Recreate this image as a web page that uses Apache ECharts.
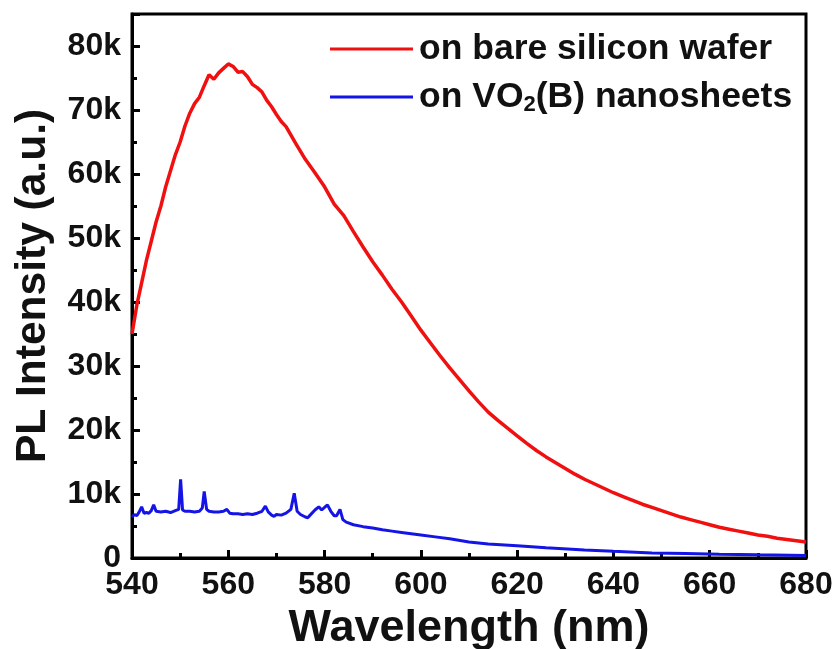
<!DOCTYPE html>
<html>
<head>
<meta charset="utf-8">
<title>PL spectra</title>
<script src="https://cdn.jsdelivr.net/npm/echarts@6/dist/echarts.min.js"></script>
<style>
    html, body { margin: 0; padding: 0; background: #fff; }
    #chart { width: 837px; height: 649px; }
</style>
</head>
<body>
<div id="chart"></div>
<script>
// wavelength (nm) / intensity (k counts)
var redWavelength = [540, 541, 542, 543, 544, 545, 546, 547, 548, 549, 550, 551, 552, 553, 554, 555,
    556, 557, 558, 559, 560, 561, 562, 563, 564, 565, 566, 567, 568, 569, 570, 571, 572, 574, 576,
    578, 580, 582, 584, 586, 588, 590, 592, 594, 596, 598, 600, 602, 604, 606, 608, 610, 612, 614,
    616, 618, 620, 622, 624, 626, 628, 630, 632, 634, 636, 638, 640, 642, 644, 646, 648, 650, 652,
    654, 656, 658, 660, 662, 664, 666, 668, 670, 672, 674, 676, 678, 680];
var redIntensity = [35.0, 39.5, 43.0, 46.5, 49.5, 52.5, 55.0, 58.0, 60.5, 63.0, 65.0, 67.5, 69.5, 71.0,
    72.0, 73.8, 75.5, 74.8, 75.8, 76.5, 77.2, 76.8, 75.9, 76.0, 75.2, 74.0, 73.5, 72.8, 71.5, 70.5,
    69.3, 68.2, 67.4, 64.8, 62.3, 60.2, 58.0, 55.3, 53.5, 51.0, 48.6, 46.3, 44.2, 42.0, 40.0, 37.8,
    35.6, 33.6, 31.6, 29.7, 27.9, 26.1, 24.4, 22.8, 21.5, 20.3, 19.1, 17.9, 16.8, 15.8, 14.9, 14.0,
    13.1, 12.3, 11.6, 10.9, 10.2, 9.6, 9.0, 8.4, 7.9, 7.4, 6.9, 6.4, 6.0, 5.6, 5.2, 4.8, 4.5, 4.2,
    3.9, 3.6, 3.4, 3.1, 2.9, 2.7, 2.5];

var blueWavelength = [540, 540.5, 541, 541.5, 542, 542.5, 543, 543.5, 544, 544.5, 545, 546, 547, 548,
    549, 549.7, 550.1, 550.5, 551, 552, 553, 554, 554.6, 555, 555.5, 556, 557, 558, 559, 559.7, 560.3,
    561, 562, 563, 564, 565, 566, 567, 567.7, 568.3, 569, 569.5, 570, 571, 572, 573, 573.7, 574.3,
    575, 576, 576.5, 577, 578, 578.8, 579.4, 580, 580.6, 581.3, 582, 582.5, 583.2, 583.8, 584.5, 586,
    588, 590, 592, 594, 596, 598, 600, 603, 606, 610, 614, 620, 626, 634, 640, 648, 655, 662, 670, 680];
var blueIntensity = [6.4, 6.8, 6.6, 7.2, 8.0, 7.0, 7.1, 7.0, 7.4, 8.3, 7.3, 7.2, 7.3, 7.1, 7.4, 7.6,
    12.3, 7.5, 7.3, 7.3, 7.2, 7.3, 7.8, 10.4, 7.6, 7.3, 7.2, 7.2, 7.3, 7.6, 7.0, 6.9, 6.9, 6.8, 6.9,
    6.8, 7.0, 7.3, 8.1, 7.2, 6.7, 6.5, 6.8, 6.7, 7.0, 7.6, 10.1, 7.3, 6.8, 6.4, 6.3, 6.7, 7.5, 8.0,
    7.5, 7.9, 8.3, 7.3, 6.6, 6.6, 7.6, 6.0, 5.6, 5.2, 4.9, 4.7, 4.4, 4.2, 4.0, 3.8, 3.6, 3.3, 3.0,
    2.5, 2.2, 1.9, 1.6, 1.25, 1.05, 0.8, 0.7, 0.6, 0.5, 0.4];

var seriesNames = ['on bare silicon wafer', 'on VO2(B) nanosheets'];

function pairs(xs, ys) {
    return xs.map(function (x, i) {
        return [x, ys[i] * 1000];
    });
}

var font = '"Liberation Sans", Arial, sans-serif';
var chart = echarts.init(document.getElementById('chart'));

chart.setOption({
    animation: false,
    grid: {
        left: 132,
        right: 31,
        top: 14,
        bottom: 91,
        outerBoundsMode: 'none',
        containLabel: false,
        show: true,
        borderColor: '#000',
        borderWidth: 3
    },
    legend: {
        orient: 'vertical',
        left: 325,
        top: 26,
        icon: 'rect',
        itemWidth: 83,
        itemHeight: 3,
        itemGap: 12,
        data: seriesNames,
        formatter: function (name) {
            if (name.indexOf('VO2') >= 0) {
                return '{n|on VO}{sub|2}{n|(B) nanosheets}';
            }
            return '{n|' + name + '}';
        },
        textStyle: {
            padding: [0, 0, 0, 1],
            rich: {
                n: {
                    fontFamily: font,
                    fontWeight: 'bold',
                    fontSize: 35.5,
                    lineHeight: 38,
                    color: '#111'
                },
                sub: {
                    fontFamily: font,
                    fontWeight: 'bold',
                    fontSize: 22,
                    lineHeight: 38,
                    color: '#111',
                    verticalAlign: 'bottom',
                    padding: [14, 0, 0, 0]
                }
            }
        }
    },
    xAxis: {
        type: 'value',
        min: 540,
        max: 680,
        interval: 20,
        name: 'Wavelength (nm)',
        nameLocation: 'middle',
        nameGap: 39,
        nameTextStyle: {
            fontFamily: font,
            fontWeight: 'bold',
            fontSize: 45,
            color: '#111'
        },
        axisLine: { lineStyle: { color: '#000', width: 3 } },
        axisTick: { inside: true, length: 8, lineStyle: { color: '#000', width: 3 } },
        minorTick: { show: true, splitNumber: 2, length: 5, lineStyle: { color: '#000', width: 3 } },
        splitLine: { show: false },
        axisLabel: {
            margin: 11,
            fontFamily: font,
            fontWeight: 'bold',
            fontSize: 32,
            color: '#111'
        }
    },
    yAxis: {
        type: 'value',
        min: 0,
        max: 85000,
        interval: 10000,
        name: 'PL Intensity (a.u.)',
        nameLocation: 'middle',
        nameGap: 77,
        nameTextStyle: {
            fontFamily: font,
            fontWeight: 'bold',
            fontSize: 42.5,
            color: '#111'
        },
        axisLine: { lineStyle: { color: '#000', width: 3 } },
        axisTick: { inside: true, length: 8, lineStyle: { color: '#000', width: 3 } },
        minorTick: { show: true, splitNumber: 2, length: 5, lineStyle: { color: '#000', width: 3 } },
        splitLine: { show: false },
        axisLabel: {
            margin: 11,
            showMaxLabel: false,
            fontFamily: font,
            fontWeight: 'bold',
            fontSize: 32,
            color: '#111',
            formatter: function (v) {
                if (v % 10000 !== 0) {
                    return '';
                }
                return v === 0 ? '0' : (v / 1000) + 'k';
            }
        }
    },
    series: [
        {
            name: seriesNames[0],
            type: 'line',
            data: pairs(redWavelength, redIntensity),
            showSymbol: false,
            lineStyle: { color: '#f01010', width: 3.5 },
            itemStyle: { color: '#f01010' },
            z: 2
        },
        {
            name: seriesNames[1],
            type: 'line',
            data: pairs(blueWavelength, blueIntensity),
            showSymbol: false,
            lineStyle: { color: '#1414e6', width: 3 },
            itemStyle: { color: '#1414e6' },
            z: 3
        }
    ]
});
</script>
</body>
</html>
